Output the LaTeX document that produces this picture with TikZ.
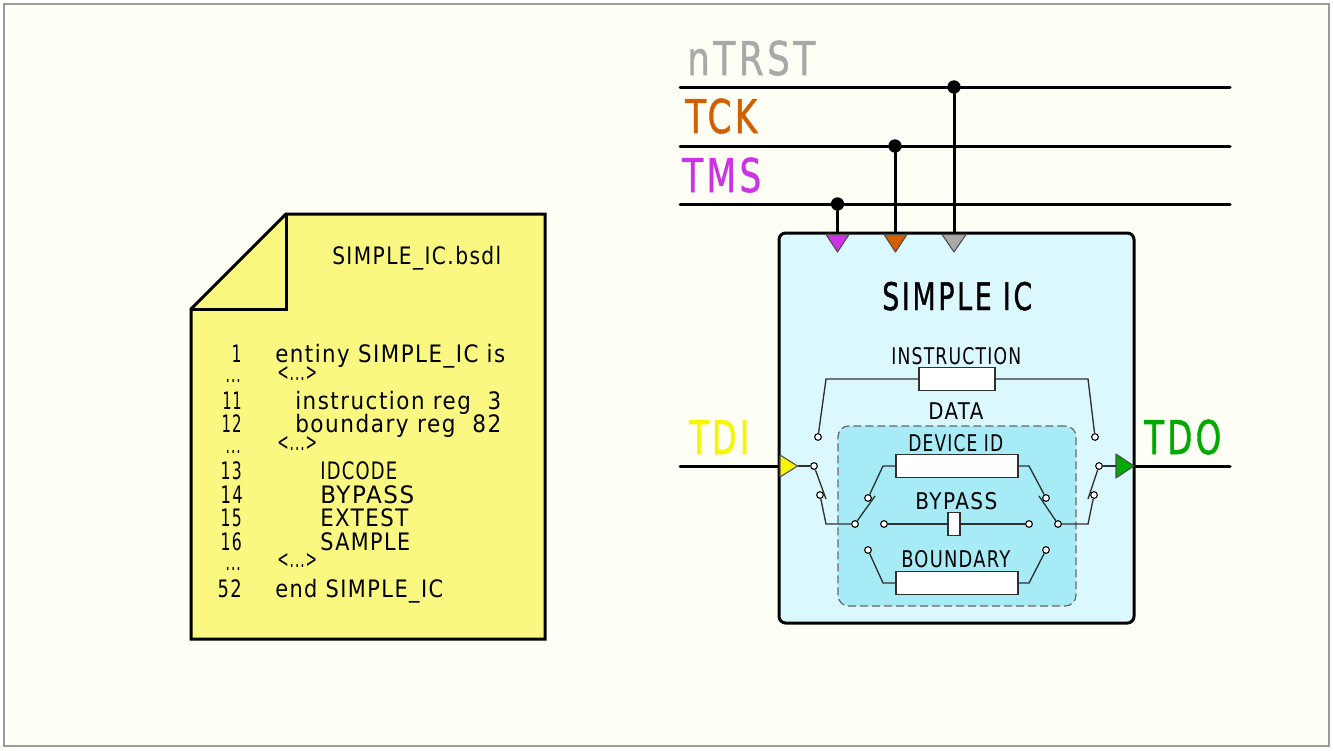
\documentclass[tikz,border=0pt]{standalone}
\usepackage{fontspec}
\usepackage{graphicx}
\setmainfont[LetterSpace=7]{DejaVu Sans}
\newfontfamily\bigfont[LetterSpace=10,FakeBold=1.2]{DejaVu Sans}
\newlength\px \setlength\px{.75pt}
\newcommand\fitw[2]{\resizebox{#1\px}{\height}{#2}}
\newcommand\fsz[1]{\fontsize{#1\px}{#1\px}\selectfont}
\definecolor{pagebg}{HTML}{FFFFF6}
\definecolor{framec}{HTML}{9A9A9A}
\definecolor{notef}{HTML}{FBF882}
\definecolor{icf}{HTML}{DCF8FF}
\definecolor{innerf}{HTML}{A6EBF6}
\definecolor{wirec}{HTML}{303030}
\definecolor{cgray}{HTML}{A9A9A9}
\definecolor{corange}{HTML}{D45F00}
\definecolor{cpurple}{HTML}{CC33E6}
\definecolor{cyellow}{HTML}{F6F600}
\definecolor{cgreen}{HTML}{00AA00}
\tikzset{
  heavy/.style={line width=2.25pt,black,line cap=round},
  thin wire/.style={line width=1pt,wirec},
  reg/.style={draw=wirec,line width=1.1pt,fill=white,inner sep=0pt,outer sep=0pt,rectangle,minimum height=17.25pt},
  contact/.style={circle,draw=black,line width=.8pt,fill=white,inner sep=0pt,minimum size=5pt},
  dot/.style={circle,fill=black,inner sep=0pt,minimum size=10pt},
  pin/.style={draw=black!70,line width=.8pt,line join=round},
  big/.style={inner sep=0pt,anchor=base west,font=\bigfont\fsz{46.5}},
  mid/.style={inner sep=0pt,anchor=base west,font=\fsz{23},text=black},
  code/.style={inner sep=0pt,anchor=base west,font=\fsz{24},text=black},
  num/.style={inner sep=0pt,anchor=base east,font=\fsz{24},text=black},
}
\begin{document}
\begin{tikzpicture}[x=.75pt,y=-.75pt]
\useasboundingbox (0,0) rectangle (1333,750);
\path[draw=framec,line width=1pt,fill=pagebg] (4,4) rectangle (1329,746);

% note
\draw[heavy,fill=notef,line join=miter] (286,214) -- (545,214) -- (545,639) -- (191,639) -- (191,309) -- cycle;
\draw[heavy,line join=miter] (191,309) -- (286,309) -- (286,214);
\node[code] (fname) at (332,264) {\fitw{169}{SIMPLE\_IC.bsdl}};
\node[num] (n1) at (242,362) {\fitw{10}{1}};
\node[num] (d1) at (241,382) {\fitw{15}{...}};
\node[num] (n11) at (242,409) {\fitw{19}{11}};
\node[num] (n12) at (242,432) {\fitw{20}{12}};
\node[num] (d2) at (241,453) {\fitw{15}{...}};
\node[num] (n13) at (242,479) {\fitw{21}{13}};
\node[num] (n14) at (243,503) {\fitw{22}{14}};
\node[num] (n15) at (242,526) {\fitw{21}{15}};
\node[num] (n16) at (242,550) {\fitw{21}{16}};
\node[num] (d3) at (241,570) {\fitw{15}{...}};
\node[num] (n52) at (242,597) {\fitw{24}{52}};
\node[code] (l1) at (275,362) {\fitw{230}{entiny SIMPLE\_IC is}};
\node[code] (g1) at (277,380) {\fitw{40}{<...>}};
\node[code] (l11) at (295,409) {\fitw{206}{instruction reg\ \ 3}};
\node[code] (l12) at (295,432) {\fitw{206}{boundary reg\ \ 82}};
\node[code] (g2) at (277,450) {\fitw{40}{<...>}};
\node[code] (l13) at (320,479) {\fitw{77}{IDCODE}};
\node[code] (l14) at (320,503) {\fitw{94}{BYPASS}};
\node[code] (l15) at (320,526) {\fitw{88}{EXTEST}};
\node[code] (l16) at (320,550) {\fitw{90}{SAMPLE}};
\node[code] (g3) at (277,567) {\fitw{40}{<...>}};
\node[code] (l52) at (275,597) {\fitw{168}{end SIMPLE\_IC}};

% bus labels
\node[big,text=cgray] (lntrst) at (687,75) {\fitw{128}{nTRST}};
\node[big,text=corange] (ltck) at (685,133) {\fitw{72}{TCK}};
\node[big,text=cpurple] (ltms) at (682,192) {\fitw{79}{TMS}};
\node[big,text=cyellow] (ltdi) at (689,454) {\fitw{60}{TDI}};
\node[big,text=cgreen] (ltdo) at (1144,454) {\fitw{77}{TDO}};

% buses
\coordinate (bal) at (680,87); \coordinate (bar) at (1230,87);
\coordinate (bbl) at (680,146); \coordinate (bbr) at (1230,146);
\coordinate (bcl) at (680,204); \coordinate (bcr) at (1230,204);
\draw[heavy] (bal) -- (bar);
\draw[heavy] (bbl) -- (bbr);
\draw[heavy] (bcl) -- (bcr);
\node[dot] (ja) at (954,87) {};
\node[dot] (jb) at (895,146) {};
\node[dot] (jc) at (837.5,204) {};
\coordinate (pa) at (954,234);
\coordinate (pb) at (895,234);
\coordinate (pc) at (837.5,234);
\draw[heavy] (ja) -- (pa);
\draw[heavy] (jb) -- (pb);
\draw[heavy] (jc) -- (pc);
\coordinate (tdiin) at (680,466); \coordinate (tdopin) at (1134,466);
\coordinate (tdiend) at (780,466); \coordinate (tdoout) at (1230,466);
\draw[heavy] (tdiin) -- (tdiend);
\draw[heavy] (tdopin) -- (tdoout);

% IC body
\node[draw=black,line width=2.25pt,fill=icf,rounded corners=5pt,minimum width=266.25pt,minimum height=292.5pt,inner sep=0pt,outer sep=0pt,anchor=north west] (ic) at (779,233) {};
\node[font=\bigfont\fsz{38},text=black,inner sep=0pt,anchor=base west] (icname) at (882,310) {\fitw{150}{SIMPLE IC}};
\node[draw=black!60,dash pattern=on 6pt off 3pt,line width=.9pt,fill=innerf,rounded corners=8pt,minimum width=178.5pt,minimum height=135pt,inner sep=0pt,outer sep=0pt,anchor=north west] (inner) at (838,426) {};

% pins
\path[pin,fill=cpurple] (826,234.5) -- (849,234.5) -- (837.5,252) -- cycle;
\path[pin,fill=corange] (884,234.5) -- (907,234.5) -- (895.5,252) -- cycle;
\path[pin,fill=cgray] (942,234.5) -- (966,234.5) -- (954,252) -- cycle;
\path[pin,fill=cyellow] (780,455) -- (797.5,466) -- (780,477) -- cycle;
\path[pin,fill=cgreen] (1116,454) -- (1134,466) -- (1116,478) -- cycle;
\coordinate (tdipin) at (797.5,466);
\coordinate (tdoin) at (1116,466);

% register labels
\node[mid] (tinstr) at (891,364) {\fitw{130}{INSTRUCTION}};
\node[mid] (tdata) at (928,419) {\fitw{55}{DATA}};
\node[mid] (tdev) at (908,451) {\fitw{95}{DEVICE ID}};
\node[mid] (tbyp) at (915,509) {\fitw{82}{BYPASS}};
\node[mid] (tbnd) at (901,567) {\fitw{109}{BOUNDARY}};

% registers
\node[reg,minimum width=57pt] (rinstr) at (957,379) {};
\node[reg,minimum width=91.5pt] (rdev) at (957,466) {};
\node[reg,minimum width=9pt] (rbyp) at (954,524) {};
\node[reg,minimum width=91.5pt] (rbnd) at (957,583) {};

% contacts
\node[contact] (ci1) at (818,437) {};
\node[contact] (ci2) at (1095,437) {};
\node[contact] (ca) at (814,466) {};
\node[contact] (cb) at (820,495) {};
\node[contact] (cc) at (855,524) {};
\node[contact] (cd) at (868,498) {};
\node[contact] (ce) at (884,524) {};
\node[contact] (cf) at (868,550) {};
\node[contact] (cg) at (1046,498) {};
\node[contact] (ch) at (1058,524) {};
\node[contact] (ci) at (1029,524) {};
\node[contact] (cj) at (1046,550) {};
\node[contact] (ck) at (1094,495) {};
\node[contact] (cl) at (1099,466) {};

% bends and free ends
\coordinate (b1) at (826,379);
\coordinate (b2) at (1088,379);
\coordinate (arm1) at (826,499);
\coordinate (b3) at (826,524);
\coordinate (arm2) at (875,496);
\coordinate (b4) at (883,466);
\coordinate (b5) at (883,583);
\coordinate (b6) at (1029,466);
\coordinate (arm3) at (1039,496);
\coordinate (b7) at (1088,524);
\coordinate (arm4) at (1088,499);
\coordinate (b8) at (1029,583);

\draw[thin wire] (rinstr.west) -- (b1) -- (ci1);
\draw[thin wire] (rinstr.east) -- (b2) -- (ci2);
\draw[thin wire] (tdipin) -- (ca);
\draw[thin wire] (ca) -- (arm1);
\draw[thin wire] (cb) -- (b3) -- (cc);
\draw[thin wire] (cc) -- (arm2);
\draw[thin wire] (cd) -- (b4) -- (rdev.west);
\draw[thin wire] (ce) -- (rbyp.west);
\draw[thin wire] (rbyp.east) -- (ci);
\draw[thin wire] (cf) -- (b5) -- (rbnd.west);
\draw[thin wire] (rdev.east) -- (b6) -- (cg);
\draw[thin wire] (ch) -- (arm3);
\draw[thin wire] (ch) -- (b7) -- (ck);
\draw[thin wire] (cl) -- (arm4);
\draw[thin wire] (cl) -- (tdoin);
\draw[thin wire] (rbnd.east) -- (b8) -- (cj);
\end{tikzpicture}
\end{document}
